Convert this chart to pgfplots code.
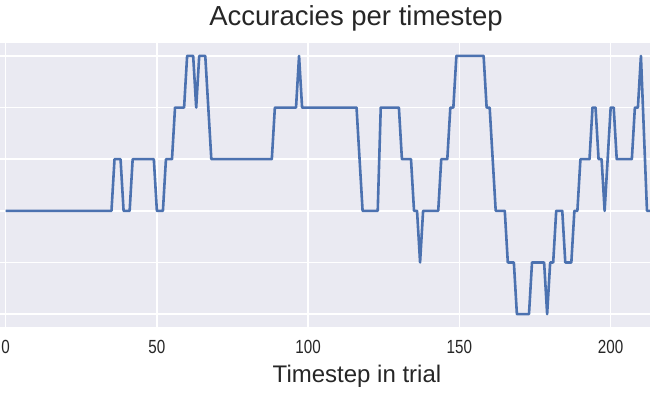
\documentclass[border=0pt]{standalone}
\usepackage{pgfplots}
\pgfplotsset{compat=1.18}
\usepackage{fontspec}
\setmainfont{Liberation Sans}
\usepackage{graphicx}
\definecolor{sbbg}{HTML}{EAEAF2}
\definecolor{sbblue}{HTML}{4C72B0}
\definecolor{sbtext}{HTML}{262626}
\newcommand\tl[1]{\scalebox{0.8}[1]{#1}}

\begin{document}
\begin{tikzpicture}
\begin{axis}[
    at={(0,0)}, anchor=south west,
    scale only axis,
    width=650pt, height=284pt,
    xmin=-1.85, xmax=213.0,
    ymin=-0.25, ymax=5.25,
    axis background/.style={fill=sbbg},
    axis line style={draw=none},
    major tick length=0pt,
    grid=major,
    major grid style={white, line width=1.6pt},
    xtick={0,50,100,150,200},
    xticklabels={\tl{0},\tl{50},\tl{100},\tl{150},\tl{200}},
    ytick={0,1,2,3,4,5},
    yticklabels={},
    xticklabel style={anchor=base, yshift=-26.3pt, font=\fontsize{19}{19}\selectfont, text=sbtext},
    title={Accuracies per timestep},
    title style={at={(axis description cs:0.5477,1)}, anchor=base, yshift=12pt, font=\fontsize{27.5}{30}\selectfont, text=sbtext},
    xlabel={Timestep in trial},
    xlabel style={at={(axis description cs:0.5492,0)}, anchor=base, yshift=-55.3pt, font=\fontsize{24}{26}\selectfont, text=sbtext},
]

% accuracy level per timestep
\addplot[sbblue, line width=2.6pt, line join=round] coordinates {
    (0,2) (1,2) (2,2) (3,2) (4,2) (5,2) (6,2) (7,2) (8,2) (9,2)
    (10,2) (11,2) (12,2) (13,2) (14,2) (15,2) (16,2) (17,2) (18,2) (19,2)
    (20,2) (21,2) (22,2) (23,2) (24,2) (25,2) (26,2) (27,2) (28,2) (29,2)
    (30,2) (31,2) (32,2) (33,2) (34,2) (35,2) (36,3) (37,3) (38,3) (39,2)
    (40,2) (41,2) (42,3) (43,3) (44,3) (45,3) (46,3) (47,3) (48,3) (49,3)
    (50,2) (51,2) (52,2) (53,3) (54,3) (55,3) (56,4) (57,4) (58,4) (59,4)
    (60,5) (61,5) (62,5) (63,4) (64,5) (65,5) (66,5) (67,4) (68,3) (69,3)
    (70,3) (71,3) (72,3) (73,3) (74,3) (75,3) (76,3) (77,3) (78,3) (79,3)
    (80,3) (81,3) (82,3) (83,3) (84,3) (85,3) (86,3) (87,3) (88,3) (89,4)
    (90,4) (91,4) (92,4) (93,4) (94,4) (95,4) (96,4) (97,5) (98,4) (99,4)
    (100,4) (101,4) (102,4) (103,4) (104,4) (105,4) (106,4) (107,4) (108,4) (109,4)
    (110,4) (111,4) (112,4) (113,4) (114,4) (115,4) (116,4) (117,3) (118,2) (119,2)
    (120,2) (121,2) (122,2) (123,2) (124,4) (125,4) (126,4) (127,4) (128,4) (129,4)
    (130,4) (131,3) (132,3) (133,3) (134,3) (135,2) (136,2) (137,1) (138,2) (139,2)
    (140,2) (141,2) (142,2) (143,2) (144,3) (145,3) (146,3) (147,4) (148,4) (149,5)
    (150,5) (151,5) (152,5) (153,5) (154,5) (155,5) (156,5) (157,5) (158,5) (159,4)
    (160,4) (161,3) (162,2) (163,2) (164,2) (165,2) (166,1) (167,1) (168,1) (169,0)
    (170,0) (171,0) (172,0) (173,0) (174,1) (175,1) (176,1) (177,1) (178,1) (179,0)
    (180,1) (181,1) (182,2) (183,2) (184,2) (185,1) (186,1) (187,1) (188,2) (189,2)
    (190,3) (191,3) (192,3) (193,3) (194,4) (195,4) (196,3) (197,3) (198,2) (199,3)
    (200,4) (201,4) (202,3) (203,3) (204,3) (205,3) (206,3) (207,3) (208,4) (209,4)
    (210,5) (211,3.5) (212,2) (213,2) (214,2)
};

\end{axis}
\pgfresetboundingbox
\useasboundingbox (0,-73pt) rectangle (650pt,327pt);
\end{tikzpicture}
\end{document}
